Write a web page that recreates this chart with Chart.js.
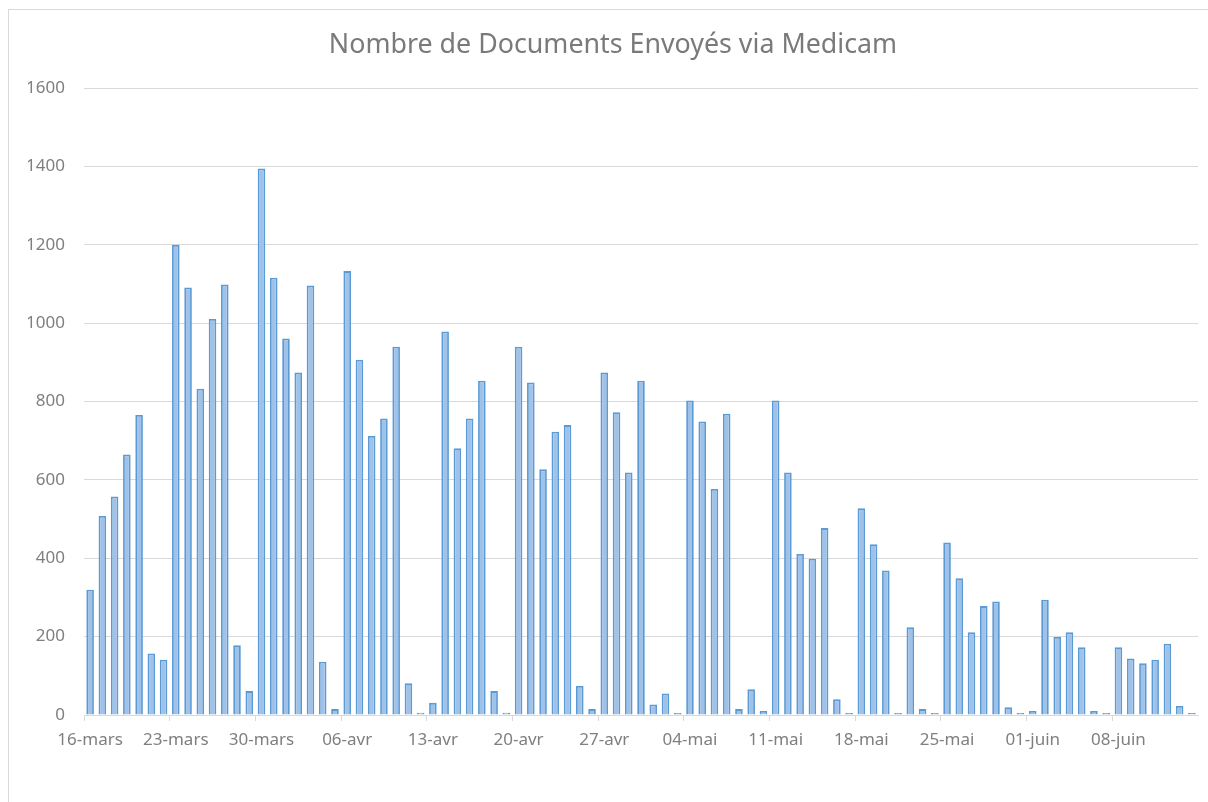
<!DOCTYPE html>
<html>
<head>
<meta charset="utf-8">
<script src="https://cdn.jsdelivr.net/npm/chart.js@4.4.1/dist/chart.umd.min.js"></script>
<style>
  html, body { margin: 0; padding: 0; background: #fff; overflow: hidden; }
  #wrap { position: relative; width: 1208px; height: 802px; }
  #frame { position: absolute; left: 8px; top: 9px; width: 1300px; height: 900px; border: 1px solid #d9d9d9; box-sizing: border-box; }
  #chartBox { position: absolute; left: 0; top: 0; width: 1208px; height: 802px; }
</style>
</head>
<body>
<div id="wrap">
  <div id="frame"></div>
  <div id="chartBox"><canvas id="myChart"></canvas></div>
</div>
<script>
var days = [
  "16-mars", "17-mars", "18-mars", "19-mars", "20-mars", "21-mars", "22-mars",
  "23-mars", "24-mars", "25-mars", "26-mars", "27-mars", "28-mars", "29-mars",
  "30-mars", "31-mars", "01-avr", "02-avr", "03-avr", "04-avr", "05-avr",
  "06-avr", "07-avr", "08-avr", "09-avr", "10-avr", "11-avr", "12-avr",
  "13-avr", "14-avr", "15-avr", "16-avr", "17-avr", "18-avr", "19-avr",
  "20-avr", "21-avr", "22-avr", "23-avr", "24-avr", "25-avr", "26-avr",
  "27-avr", "28-avr", "29-avr", "30-avr", "01-mai", "02-mai", "03-mai",
  "04-mai", "05-mai", "06-mai", "07-mai", "08-mai", "09-mai", "10-mai",
  "11-mai", "12-mai", "13-mai", "14-mai", "15-mai", "16-mai", "17-mai",
  "18-mai", "19-mai", "20-mai", "21-mai", "22-mai", "23-mai", "24-mai",
  "25-mai", "26-mai", "27-mai", "28-mai", "29-mai", "30-mai", "31-mai",
  "01-juin", "02-juin", "03-juin", "04-juin", "05-juin", "06-juin", "07-juin",
  "08-juin", "09-juin", "10-juin", "11-juin", "12-juin", "13-juin", "14-juin"
];

var documents = [
  320, 508, 558, 665, 766, 157, 141,
  1200, 1091, 833, 1011, 1099, 178, 61,
  1395, 1116, 961, 874, 1096, 136, 15,
  1133, 907, 712, 757, 940, 81, 6,
  31, 979, 681, 757, 853, 61, 6,
  940, 849, 627, 723, 740, 74, 15,
  874, 773, 619, 853, 27, 55, 5,
  803, 749, 577, 769, 15, 66, 10,
  803, 619, 411, 399, 477, 40, 5,
  528, 436, 369, 5, 224, 15, 5,
  440, 349, 211, 278, 290, 20, 5,
  10, 294, 199, 211, 173, 10, 5,
  173, 144, 132, 141, 182, 23, 5
];

var yTicks = [0, 200, 400, 600, 800, 1000, 1200, 1400, 1600];

var ctx = document.getElementById("myChart").getContext("2d");

var myChart = new Chart(ctx, {
  type: "bar",
  data: {
    labels: days,
    datasets: [
      {
        label: "Documents",
        data: documents,
        backgroundColor: "#a0c1e8",
        borderColor: "#5b9bd5",
        borderWidth: 1.8,
        categoryPercentage: 1,
        barPercentage: 0.62,
      },
    ],
  },
  options: {
    responsive: true,
    maintainAspectRatio: false,
    animation: false,
    layout: { padding: { left: 28, right: 10, top: 0, bottom: 0 } },
    plugins: {
      legend: { display: false },
      tooltip: { enabled: false },
      title: {
        display: true,
        text: "Nombre de Documents Envoyés via Medicam",
        color: "#7a7a7a",
        font: { family: "'Noto Sans'", size: 26.8, weight: "normal" },
        padding: { top: 29, bottom: 27 },
      },
    },
    scales: {
      x: {
        grid: {
          offset: true,
          drawOnChartArea: false,
          drawTicks: true,
          tickLength: 6,
          tickColor: function (c) {
            return c.index % 7 === 0 ? "#d9d9d9" : "rgba(0,0,0,0)";
          },
        },
        border: { display: true, color: "#d9d9d9", width: 1 },
        ticks: {
          autoSkip: false,
          maxRotation: 0,
          minRotation: 0,
          padding: 9,
          color: "#7f7f7f",
          font: { family: "'Noto Sans'", size: 17 },
          callback: function (v, i) {
            return i % 7 === 0 ? days[i] : "";
          },
        },
        afterFit: function (s) { s.height = 87; },
      },
      y: {
        min: 0,
        max: 1600,
        afterBuildTicks: function (s) {
          s.ticks = yTicks.map(function (v) { return { value: v }; });
        },
        grid: { color: "#d9d9d9", drawTicks: false },
        border: { display: false },
        ticks: {
          padding: 19,
          color: "#7f7f7f",
          font: { family: "'Noto Sans'", size: 17 },
          callback: function (v) { return String(v); },
        },
        afterFit: function (s) { s.width = 56; },
      },
    },
  },
});
</script>
</body>
</html>
